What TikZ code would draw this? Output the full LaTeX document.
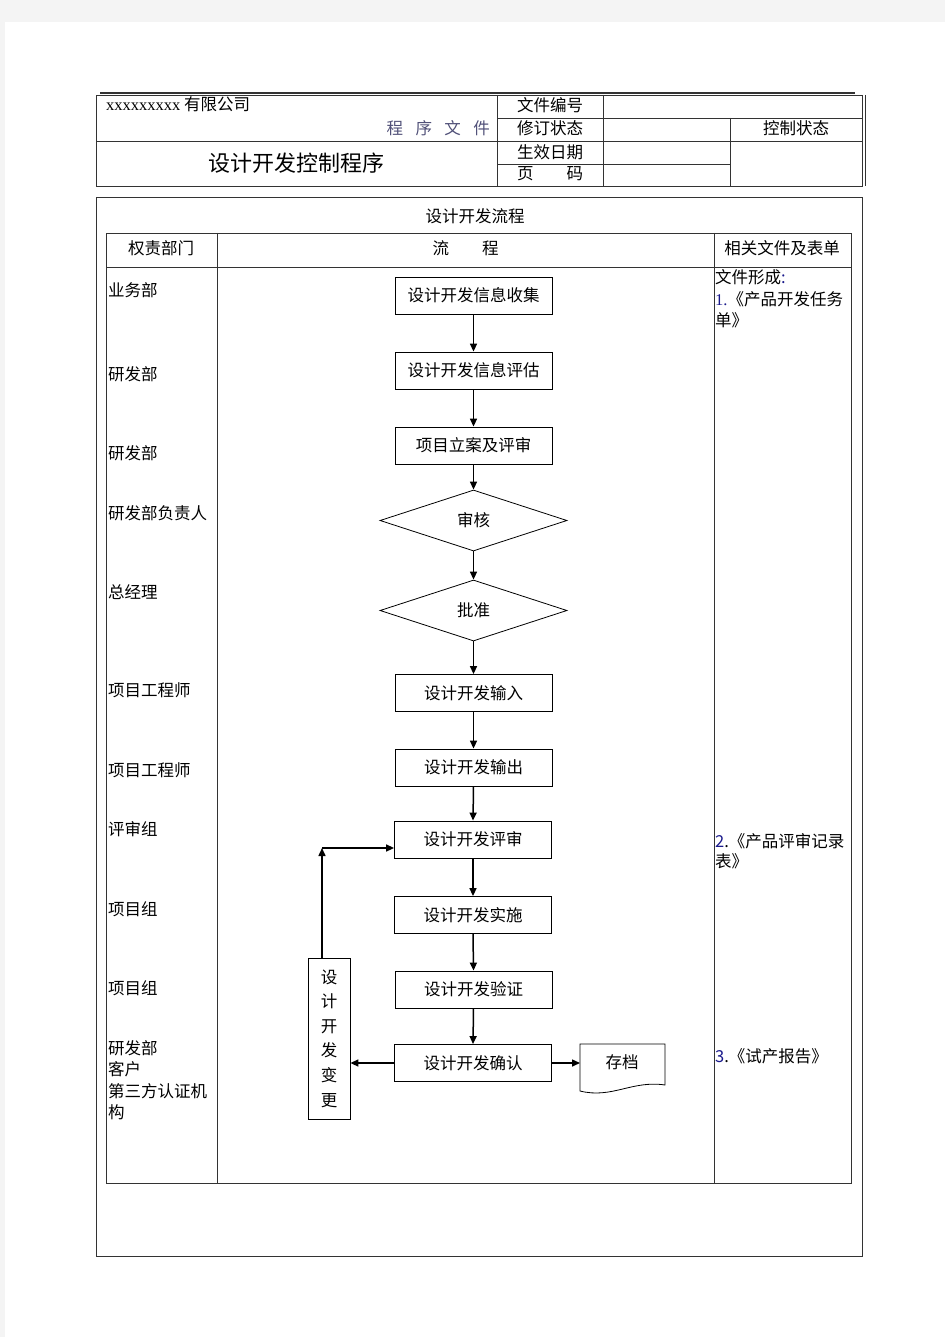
\documentclass[tikz,border=0pt]{standalone}
\usepackage{fontspec}
\setmainfont{Liberation Serif}
\newfontfamily\cjk{Noto Sans CJK SC}
\usetikzlibrary{shapes.geometric,arrows.meta}
\definecolor{bggray}{HTML}{F4F4F4}
\definecolor{numblue}{HTML}{1A1A8C}
\definecolor{titleblue}{HTML}{505078}
\definecolor{tline}{HTML}{333333}
\tikzset{
  tab/.style={draw=tline, line width=0.8pt},
  txt/.style={inner sep=0pt, font=\cjk\fontsize{16.5}{19}\selectfont},
  lbl/.style={txt, anchor=west},
  proc/.style={draw, line width=0.8pt, minimum width=157pt, minimum height=37pt, inner sep=0pt, font=\cjk\fontsize{16.5}{19}\selectfont},
  dec/.style={draw, line width=0.8pt, shape=diamond, minimum width=187pt, minimum height=61pt, inner sep=0pt, font=\cjk\fontsize{16.5}{19}\selectfont},
  arr/.style={line width=1.5pt, -{Triangle[length=8pt,width=7pt]}},
}
\begin{document}
\begin{tikzpicture}[x=1pt,y=-1pt]
\useasboundingbox (0,0) rectangle (945,1337);
\fill[bggray] (0,0) rectangle (945,1337);
\fill[white] (5,22) rectangle (945,1337);

% ---------- header table ----------
\draw[line width=1.6pt, tline] (100,93) -- (855,93);
\draw[tab] (96,95) rectangle (862,186);
\draw[tab] (865,95) -- (865,186);
\draw[tab] (497,118) -- (862,118);
\draw[tab] (96,141) -- (862,141);
\draw[tab] (497,164) -- (730,164);
\draw[tab] (497,95) -- (497,186);
\draw[tab] (603,95) -- (603,186);
\draw[tab] (730,118) -- (730,186);

\node[lbl] (company) at (106,104) {{\fontspec{Liberation Serif}\fontsize{16.5}{19}\selectfont xxxxxxxxx} 有限公司};
\node[txt, anchor=east, text=titleblue] (progdoc) at (490,128) {程\hspace{0.75em}序\hspace{0.75em}文\hspace{0.75em}件};
\node[txt, font=\cjk\fontsize{22}{25}\selectfont] (docname) at (296.5,163.5) {设计开发控制程序};
\node[txt] (h1) at (550,105) {文件编号};
\node[txt] (h2) at (550,128) {修订状态};
\node[txt] (h3) at (550,152) {生效日期};
\node[txt] (h4) at (550,174) {页\hspace{2em}码};
\node[txt] (h5) at (796,128) {控制状态};

% ---------- main frame ----------
\draw[tab] (96,197) rectangle (862,1256);
\node[txt] (ftitle) at (475,216) {设计开发流程};
\draw[tab] (106,233) rectangle (851,1183);
\draw[tab] (106,267) -- (851,267);
\draw[tab] (217,233) -- (217,1183);
\draw[tab] (714,233) -- (714,1183);
\node[txt] (c1) at (161,248) {权责部门};
\node[txt] (c2) at (465.5,248) {流\hspace{2em}程};
\node[txt] (c3) at (782,248) {相关文件及表单};

% ---------- left column ----------
\node[lbl] (l1) at (108,290) {业务部};
\node[lbl] (l2) at (108,374) {研发部};
\node[lbl] (l3) at (108,453) {研发部};
\node[lbl] (l4) at (108,513) {研发部负责人};
\node[lbl] (l5) at (108,592) {总经理};
\node[lbl] (l6) at (108,690) {项目工程师};
\node[lbl] (l7) at (108,770) {项目工程师};
\node[lbl] (l8) at (108,829) {评审组};
\node[lbl] (l9) at (108,909) {项目组};
\node[lbl] (l10) at (108,988) {项目组};
\node[lbl] (l11) at (108,1048) {研发部};
\node[lbl] (l12) at (108,1069) {客户};
\node[lbl] (l13) at (108,1091) {第三方认证机};
\node[lbl] (l14) at (108,1112) {构};

% ---------- right column ----------
\node[lbl] (r0) at (715,277) {文件形成{\color{numblue}:}};
\node[lbl] (r1) at (715,299) {{\fontspec{Liberation Serif}\color{numblue}1.}《产品开发任务};
\node[lbl] (r1b) at (715,320) {单》};
\node[lbl] (r2) at (715,841) {{\color{numblue}2}.《产品评审记录};
\node[lbl] (r2b) at (715,861) {表》};
\node[lbl] (r3) at (715,1056) {{\color{numblue}3}.《试产报告》};

% ---------- flow ----------
\node[proc] (b1) at (473.5,295.5) {设计开发信息收集};
\node[proc] (b2) at (473.5,370.5) {设计开发信息评估};
\node[proc] (b3) at (473.5,445.5) {项目立案及评审};
\node[dec]  (d1) at (473.5,520.5) {审核};
\node[dec]  (d2) at (473.5,610.5) {批准};
\node[proc] (b6) at (473.5,693) {设计开发输入};
\node[proc] (b7) at (473.5,767.5) {设计开发输出};
\node[proc] (b8) at (473,839.5) {设计开发评审};
\node[proc] (b9) at (473,915) {设计开发实施};
\node[proc] (b10) at (473.5,989.5) {设计开发验证};
\node[proc] (b11) at (473,1063) {设计开发确认};
\node[draw, line width=0.8pt, minimum width=42pt, minimum height=161pt, inner sep=0pt, align=center,
      font=\cjk\fontsize{16.5}{24.6}\selectfont] (chg) at (329,1038.5) {设\\计\\开\\发\\变\\更};
\draw[line width=0.8pt] (580,1044) -- (665,1044) -- (665,1085)
   .. controls (632,1080) and (612,1099) .. (580,1091) -- cycle;
\node[txt] (arch) at (622,1062) {存档};
\coordinate (corner) at (322,848);

\draw[arr] (b1.south) -- (b2.north);
\draw[arr] (b2.south) -- (b3.north);
\draw[arr] (b3.south) -- (d1.north);
\draw[arr] (d1.south) -- (d2.north);
\draw[arr] (d2.south) -- (b6.north);
\draw[arr] (b6.south) -- (b7.north);
\draw[arr] (b7.south) -- (b8.north);
\draw[arr] (b8.south) -- (b9.north);
\draw[arr] (b9.south) -- (b10.north);
\draw[arr] (b10.south) -- (b11.north);
\draw[arr] (b11.west) -- (b11.west -| chg.east);
\draw[arr] (b11.east) -- (580,1063);
\draw[arr] (chg.north -| corner) -- (corner);
\draw[arr] (corner) -- (corner -| b8.west);
\end{tikzpicture}
\end{document}
